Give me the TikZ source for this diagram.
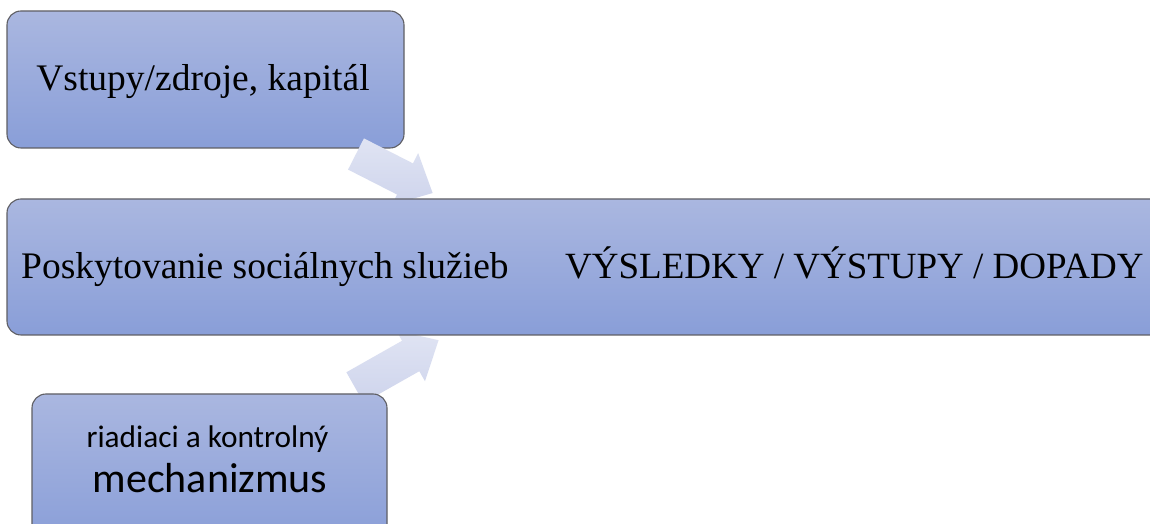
\documentclass[tikz,border=0pt]{standalone}
\usepackage{fontspec}
\setmainfont{Liberation Serif}
\newfontfamily\calib{Carlito}
\begin{document}
\begin{tikzpicture}[x=1pt,y=1pt,
  box/.style={draw={rgb,255:red,95;green,95;blue,100}, line width=1.1pt,
    rounded corners=14pt,
    top color={rgb,255:red,170;green,183;blue,224},
    bottom color={rgb,255:red,137;green,158;blue,216},
    inner sep=0pt},
  blockarrow/.style={top color={rgb,255:red,224;green,228;blue,243},
    bottom color={rgb,255:red,206;green,212;blue,236}, draw=none},
  serifbig/.style={font=\fontsize{37.5}{44}\selectfont, inner sep=0pt, text=black},
  serifmid/.style={font=\fontsize{37}{44}\selectfont, inner sep=0pt, text=black},
  sanssmall/.style={font=\calib\fontsize{31.3}{36}\selectfont, inner sep=0pt, text=black},
  sansbig/.style={font=\calib\fontsize{42}{48}\selectfont, inner sep=0pt, text=black}]
\clip (0,0) rectangle (1150,524);
\fill[white] (0,0) rectangle (1150,524);
% top box
\path[box] (7,376) rectangle (404,513);
% arrow from top box into middle box
\begin{scope}[shift={(356,370)}, rotate=-27]
  \path[blockarrow] (0,-17.5) -- (55,-17.5) -- (55,-29) -- (86,0) -- (55,29) -- (55,17.5) -- (0,17.5) -- cycle;
\end{scope}
% arrow from bottom box into middle box
\begin{scope}[shift={(355,136.5)}, rotate=29.5]
  \path[blockarrow] (0,-17.5) -- (64,-17.5) -- (64,-29) -- (96,0) -- (64,29) -- (64,17.5) -- (0,17.5) -- cycle;
\end{scope}
% middle box
\path[box] (7,189) rectangle (1170,325);
% bottom box
\path[box] (32,-20) rectangle (387,130);
% texts
\node[serifbig, anchor=base] (t1) at (203,433.3) {Vstupy/zdroje, kapitál};
\node[serifbig, anchor=base west] (t2) at (21,245) {Poskytovanie sociálnych služieb};
\node[serifmid, anchor=base west] (t3) at (565,245) {VÝSLEDKY / VÝSTUPY / DOPADY};
\node[sanssmall, anchor=base] (t4) at (207.5,76) {riadiaci a kontrolný};
\node[sansbig, anchor=base] (t5) at (210,31) {mechanizmus};
\end{tikzpicture}
\end{document}
